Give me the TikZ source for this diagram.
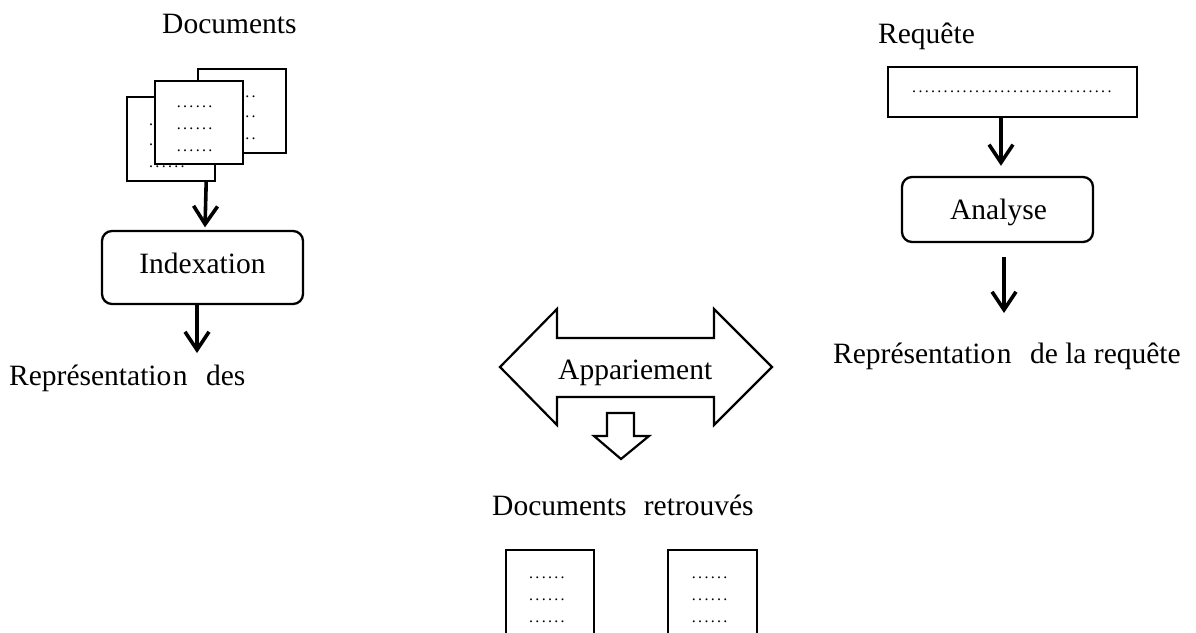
\documentclass[tikz,border=0pt]{standalone}
\usepackage{fontspec}
\setmainfont{Liberation Serif}
\usetikzlibrary{arrows.meta}
\newcommand\dotrow[1]{\foreach \i in {1,...,#1}{.\kern2.3pt}}
\begin{document}
\begin{tikzpicture}[x=1pt,y=-1pt,
  txt/.style={font=\fontsize{29.5}{34}\selectfont, inner sep=0pt},
  dotsrow/.style={font=\fontsize{16}{16}\selectfont, inner sep=0pt, anchor=base west},
  doc/.style={draw, line width=2pt, fill=white, inner sep=0pt, minimum width=88pt, minimum height=83.5pt},
  procbox/.style={draw, line width=2.3pt, rounded corners=10pt, inner sep=0pt},
  arr/.style={line width=3.6pt, -{Straight Barb[length=18pt,width=24pt,line join=miter]}},
  block/.style={draw, line width=2.2pt, line join=miter}]
\useasboundingbox (0,0) rectangle (1196,632);

% ---- document stack (top left)
\node[txt, anchor=base west] (doclbl) at (162,33) {Documents};
\node[doc] (bkdoc) at (241.6,110.85) {};
\node[dotsrow] (bkd1) at (220,97) {\dotrow{6}};
\node[dotsrow] (bkd2) at (220,117) {\dotrow{6}};
\node[dotsrow] (bkd3) at (220,139) {\dotrow{6}};
\node[doc] (lfdoc) at (170.5,139) {};
\node[dotsrow] (lfd1) at (149,125) {\dotrow{1}};
\node[dotsrow] (lfd2) at (149,145.7) {\dotrow{1}};
\node[dotsrow] (lfd3) at (149,167.7) {\dotrow{6}};
\node[doc] (frdoc) at (199.3,122.35) {};
\node[dotsrow] (frd1) at (176.7,107) {\dotrow{6}};
\node[dotsrow] (frd2) at (176.7,129.7) {\dotrow{6}};
\node[dotsrow] (frd3) at (176.7,151) {\dotrow{6}};

% ---- indexation
\node[procbox, minimum width=201pt, minimum height=73pt] (idx) at (202.5,267.5) {};
\node[txt, anchor=base] (idxt) at (202.5,273) {Indexation};
\draw[arr] ([xshift=-9.3pt]lfdoc.south east) -- ([xshift=2.5pt,yshift=2.5pt]idx.north);
\coordinate (repd) at (197,353);
\draw[arr] ([xshift=-5.5pt]idx.south) -- (repd);
\node[txt, anchor=base west] (repdt) at (9,385) {Représentatio\kern1.5pt n\hspace{11pt} des};

% ---- requete
\node[txt, anchor=base west] (rqlbl) at (878,43) {Requête};
\node[draw, line width=2pt, inner sep=0pt, minimum width=249pt, minimum height=50pt] (rq) at (1012.5,92) {};
\node[dotsrow] (rqd) at (912,92.7) {\dotrow{32}};
\node[procbox, minimum width=191pt, minimum height=65pt] (an) at (997.5,209.5) {};
\node[txt, anchor=base] (ant) at (998.5,219) {Analyse};
\draw[arr] ([xshift=-11.5pt]rq.south) -- ([xshift=3.5pt,yshift=10pt]an.north);
\coordinate (repq) at (1004,313);
\draw[arr] ([xshift=6.5pt,yshift=-14pt]an.south) -- (repq);
\node[txt, anchor=base west] (repqt) at (833,363) {Représentatio\kern1.5pt n\hspace{11pt} de la requête};

% ---- appariement
\draw[block] (500,367) -- (557,309) -- (557,338) -- (714,338) -- (714,309) -- (772,367)
  -- (714,425) -- (714,397) -- (557,397) -- (557,425) -- cycle;
\node[txt, anchor=base west] (app) at (558,379) {Appariement};
\draw[block] (607,413) -- (634,413) -- (634,436) -- (649,436) -- (621,459) -- (594,436) -- (607,436) -- cycle;

% ---- retrieved documents
\node[txt, anchor=base west] (retr) at (492,515) {Documents\hspace{10pt} retrouvés};
\node[doc, minimum width=88.5pt, minimum height=100pt] (rd1) at (549.75,600) {};
\node[dotsrow] (rd1a) at (529,578) {\dotrow{6}};
\node[dotsrow] (rd1b) at (529,600) {\dotrow{6}};
\node[dotsrow] (rd1c) at (529,622) {\dotrow{6}};
\node[doc, minimum width=88.5pt, minimum height=100pt] (rd2) at (712.5,600) {};
\node[dotsrow] (rd2a) at (691.7,578) {\dotrow{6}};
\node[dotsrow] (rd2b) at (691.7,600) {\dotrow{6}};
\node[dotsrow] (rd2c) at (691.7,622) {\dotrow{6}};
\end{tikzpicture}
\end{document}
